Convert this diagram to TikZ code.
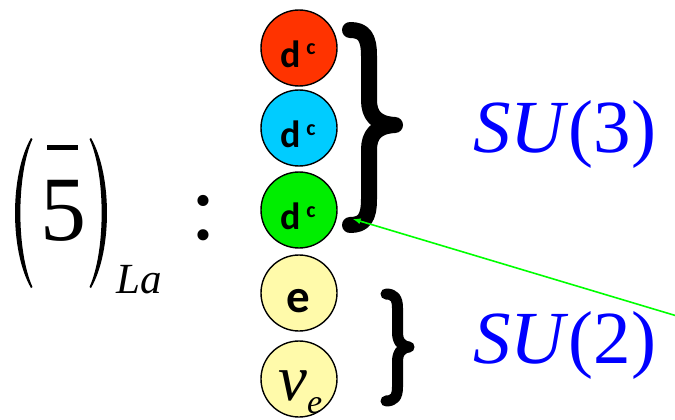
\documentclass[tikz,border=0pt]{standalone}
\usepackage{fontspec}
\setmainfont{Liberation Serif}
\newfontfamily\carlito{Carlito}
\begin{document}
\begin{tikzpicture}[x=1pt,y=-1pt,
  ball/.style={circle,draw=black,line width=1.4pt,minimum size=76pt,inner sep=0pt},
  dlabel/.style={anchor=base,inner sep=0pt,font=\carlito\bfseries\fontsize{38}{38}\selectfont},
  clabel/.style={anchor=base,inner sep=0pt,font=\carlito\bfseries\fontsize{22}{22}\selectfont},
  sulabel/.style={anchor=base west,inner sep=0pt,text={rgb,255:red,0;green,0;blue,255},font=\fontsize{75}{75}\selectfont},
  bracepath/.style={draw=black,line cap=round,line join=round},
  parenpath/.style={fill=black},
  garrow/.style={draw={rgb,255:red,0;green,255;blue,0},line width=1.6pt,-latex}]
\useasboundingbox (0,0) rectangle (675,420);
% left expression
\fill[parenpath] (31,138) .. controls (9.7,175) and (9.7,251) .. (31,288) -- (32.5,287) .. controls (16.3,251) and (16.3,175) .. (32.5,139) -- cycle;
\fill[parenpath] (91,138) .. controls (112.3,175) and (112.3,251) .. (91,288) -- (89.5,287) .. controls (105.7,251) and (105.7,175) .. (89.5,139) -- cycle;
\node[anchor=base west,inner sep=0pt,font=\fontsize{92}{92}\selectfont] (five) at (40,240) {5};
\draw[line width=4.5pt] (47,147.5) -- (78,147.5);
\node[anchor=base west,inner sep=0pt,font=\fontsize{43}{43}\selectfont\itshape] (la) at (116,293) {La};
\node[anchor=base,inner sep=0pt,font=\fontsize{94}{94}\selectfont] (colon) at (204,239) {:};
% balls
\node[ball,fill={rgb,255:red,255;green,51;blue,0}] (c1) at (299,48) {};
\node[ball,fill={rgb,255:red,0;green,204;blue,255}] (c2) at (299,128) {};
\node[ball,fill={rgb,255:red,0;green,238;blue,0}] (c3) at (299,210) {};
\node[ball,fill={rgb,255:red,255;green,250;blue,170}] (c4) at (299,293) {};
\node[ball,fill={rgb,255:red,255;green,250;blue,170}] (c5) at (299,379) {};
\node[dlabel] (d1) at (291,67) {d};
\node[clabel] (s1) at (311,55) {c};
\node[dlabel] (d2) at (291,147) {d};
\node[clabel] (s2) at (311,135) {c};
\node[dlabel] (d3) at (291,229) {d};
\node[clabel] (s3) at (311,217) {c};
\node[anchor=base,inner sep=0pt,font=\carlito\bfseries\fontsize{47}{47}\selectfont] (t4) at (298,312) {e};
\node[anchor=base west,inner sep=0pt,font=\fontsize{65}{65}\selectfont\itshape] (nu) at (278,400) {ν};
\node[anchor=base west,inner sep=0pt,font=\fontsize{34}{34}\selectfont\itshape] (nusub) at (307,413) {e};
% braces
\draw[bracepath,line width=16pt] (350,30) .. controls (364,30) and (369,37) .. (369,56) -- (369,100) .. controls (369,115) and (376,124) .. (395,125) .. controls (376,126) and (369,135) .. (369,150) -- (369,199) .. controls (369,218) and (364,225) .. (350,225);
\draw[bracepath,line width=11pt] (386,294) .. controls (394,294) and (397.5,298) .. (397.5,308) -- (397.5,332) .. controls (397.5,341) and (401,346) .. (409,347) .. controls (401,348) and (397.5,353) .. (397.5,362) -- (397.5,387) .. controls (397.5,397) and (394,401) .. (386,401);
% labels
\node[sulabel] (su3) at (473,152) {\textit{SU}(3)};
\node[sulabel] (su2) at (473,363) {\textit{SU}(2)};
% arrow
\coordinate (astart) at (677,316);
\coordinate (atip) at (353,219);
\draw[garrow] (astart) -- (atip);
\end{tikzpicture}
\end{document}
